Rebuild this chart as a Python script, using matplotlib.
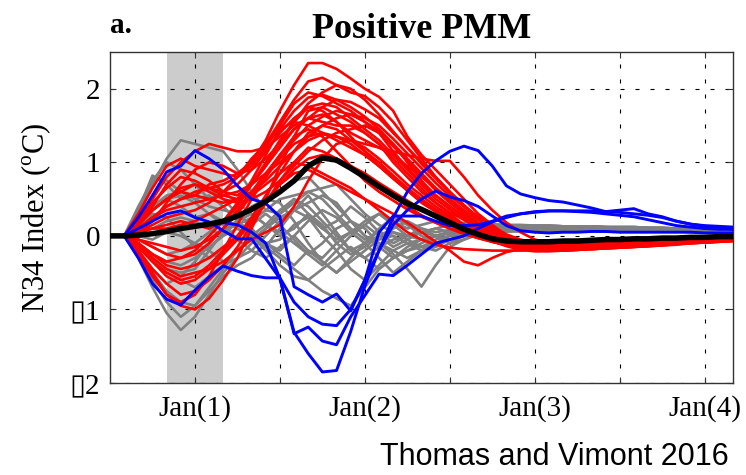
import numpy as np
import matplotlib
matplotlib.use("Agg")
import matplotlib.pyplot as plt

plt.rcParams['font.family'] = ['Liberation Serif', 'DejaVu Sans']
plt.rcParams['mathtext.fontset'] = 'custom'
plt.rcParams['mathtext.rm'] = 'Liberation Serif'
plt.rcParams['lines.scale_dashes'] = False

# months since Jul(0); Jan(1) = 6
months = np.arange(45)

ens_mean = [0, 0, 0.01, 0.03, 0.06, 0.1, 0.13, 0.16, 0.2, 0.27,
            0.36, 0.47, 0.6, 0.75, 0.95, 1.06, 1.03, 0.92, 0.8, 0.67,
            0.55, 0.44, 0.36, 0.27, 0.18, 0.09, 0.02, -0.04, -0.07, -0.08,
            -0.08, -0.08, -0.07, -0.07, -0.06, -0.05, -0.05, -0.04, -0.04, -0.03,
            -0.03, -0.02, -0.02, -0.01, -0.01]

red_runs = [
    [0, 0, 0.15, 0.35, 0.5, 0.6, 0.55, 0.7, 0.75, 0.85,
     1.0, 1.3, 1.7, 2.05, 2.35, 2.35, 2.27, 2.14, 2.0, 1.89,
     1.7, 1.35, 1.1, 0.9, 0.7, 0.5, 0.3, 0.15, 0.0, -0.08,
     -0.1, -0.12, -0.12, -0.13, -0.12, -0.12, -0.11, -0.1, -0.1, -0.09,
     -0.08, -0.07, -0.06, -0.05, -0.05],
    [0, 0, 0.1, 0.25, 0.4, 0.5, 0.6, 0.65, 0.7, 0.8,
     1.0, 1.25, 1.55, 1.85, 2.1, 2.15, 2.05, 1.95, 1.9, 1.75,
     1.55, 1.3, 1.05, 0.8, 0.6, 0.4, 0.25, 0.1, -0.02, -0.1,
     -0.14, -0.15, -0.15, -0.14, -0.14, -0.13, -0.12, -0.11, -0.1, -0.09,
     -0.08, -0.07, -0.06, -0.06, -0.05],
    [0, 0, -0.1, -0.25, -0.35, -0.3, -0.2, 0.0, 0.2, 0.45,
     0.75, 1.1, 1.45, 1.7, 1.88, 1.92, 1.85, 1.75, 1.62, 1.45,
     1.25, 1.0, 0.75, 0.55, 0.4, 0.25, 0.12, 0.02, -0.06, -0.12,
     -0.15, -0.17, -0.18, -0.18, -0.17, -0.16, -0.15, -0.14, -0.12, -0.11,
     -0.1, -0.08, -0.07, -0.06, -0.05],
    [0, 0, 0.05, 0.2, 0.45, 0.7, 0.9, 1.0, 0.95, 0.85,
     0.9, 1.05, 1.25, 1.45, 1.6, 1.75, 1.85, 1.82, 1.72, 1.6,
     1.4, 1.2, 1.0, 0.8, 0.6, 0.42, 0.25, 0.1, 0.0, -0.08,
     -0.12, -0.13, -0.14, -0.14, -0.13, -0.12, -0.12, -0.11, -0.1, -0.09,
     -0.08, -0.07, -0.06, -0.05, -0.05],
    [0, 0, 0.2, 0.5, 0.8, 1.0, 1.15, 1.25, 1.2, 1.15,
     1.15, 1.2, 1.35, 1.5, 1.6, 1.65, 1.55, 1.4, 1.3, 1.2,
     1.1, 0.95, 0.8, 0.65, 0.5, 0.35, 0.22, 0.1, 0.0, -0.06,
     -0.09, -0.1, -0.11, -0.11, -0.1, -0.1, -0.09, -0.09, -0.08, -0.07,
     -0.07, -0.06, -0.05, -0.05, -0.04],
    [0, 0, -0.2, -0.5, -0.8, -0.95, -1.0, -0.85, -0.6, -0.3,
     0.1, 0.5, 0.95, 1.35, 1.7, 1.75, 1.65, 1.55, 1.4, 1.25,
     1.05, 0.85, 0.65, 0.45, 0.3, 0.15, 0.03, -0.07, -0.14, -0.19,
     -0.21, -0.21, -0.2, -0.19, -0.18, -0.17, -0.16, -0.15, -0.14, -0.12,
     -0.11, -0.1, -0.09, -0.08, -0.07],
    [0, 0, 0.15, 0.4, 0.7, 0.9, 0.85, 0.75, 0.6, 0.55,
     0.7, 0.95, 1.2, 1.45, 1.6, 1.55, 1.5, 1.5, 1.4, 1.25,
     1.0, 0.8, 0.6, 0.45, 0.32, 0.22, 0.12, 0.03, -0.04, -0.08,
     -0.1, -0.11, -0.11, -0.11, -0.1, -0.1, -0.09, -0.09, -0.08, -0.07,
     -0.06, -0.06, -0.05, -0.05, -0.04],
    [0, 0, -0.15, -0.35, -0.5, -0.6, -0.55, -0.4, -0.2, 0.0,
     0.25, 0.55, 0.85, 1.15, 1.4, 1.5, 1.45, 1.3, 1.15, 1.0,
     0.82, 0.65, 0.5, 0.36, 0.25, 0.15, 0.06, -0.02, -0.09, -0.13,
     -0.15, -0.16, -0.16, -0.15, -0.15, -0.14, -0.13, -0.12, -0.11, -0.1,
     -0.09, -0.08, -0.07, -0.06, -0.05],
    [0, 0, 0.1, 0.25, 0.35, 0.4, 0.45, 0.5, 0.55, 0.6,
     0.7, 0.85, 1.0, 1.15, 1.3, 1.38, 1.35, 1.3, 1.25, 1.2,
     1.15, 1.1, 1.05, 1.02, 1.02, 0.8, 0.55, 0.35, 0.18, 0.05,
     -0.05, -0.1, -0.12, -0.13, -0.13, -0.12, -0.12, -0.11, -0.1, -0.09,
     -0.08, -0.07, -0.06, -0.05, -0.05],
    [0, 0, -0.1, -0.3, -0.45, -0.55, -0.5, -0.45, -0.35, -0.2,
     -0.05, 0.05, 0.15, 0.4, 0.75, 1.05, 1.25, 1.3, 1.2, 1.05,
     0.88, 0.7, 0.55, 0.4, 0.27, 0.15, 0.05, -0.02, -0.07, -0.1,
     -0.12, -0.13, -0.13, -0.12, -0.12, -0.11, -0.1, -0.1, -0.09, -0.08,
     -0.07, -0.06, -0.06, -0.05, -0.05],
    [0, 0, 0.2, 0.45, 0.65, 0.8, 0.75, 0.65, 0.6, 0.7,
     0.9, 1.15, 1.4, 1.6, 1.75, 1.8, 1.75, 1.6, 1.45, 1.3,
     1.1, 0.9, 0.7, 0.5, 0.36, 0.22, 0.1, 0.0, -0.07, -0.1,
     -0.12, -0.13, -0.13, -0.12, -0.12, -0.11, -0.1, -0.1, -0.09, -0.08,
     -0.07, -0.07, -0.06, -0.05, -0.05],
    [0, 0, -0.2, -0.45, -0.65, -0.8, -0.75, -0.6, -0.4, -0.15,
     0.15, 0.45, 0.75, 1.0, 1.2, 1.15, 1.05, 0.95, 0.85, 0.72,
     0.6, 0.48, 0.36, 0.25, 0.15, 0.06, -0.02, -0.08, -0.13, -0.17,
     -0.19, -0.2, -0.2, -0.19, -0.18, -0.17, -0.16, -0.15, -0.14, -0.13,
     -0.12, -0.1, -0.09, -0.08, -0.07],
    [0, 0, 0.05, 0.15, 0.25, 0.3, 0.35, 0.45, 0.6, 0.8,
     1.05, 1.25, 1.45, 1.55, 1.5, 1.4, 1.3, 1.2, 1.1, 0.95,
     0.8, 0.62, 0.45, 0.33, 0.23, 0.14, 0.06, -0.01, -0.06, -0.09,
     -0.11, -0.12, -0.12, -0.12, -0.11, -0.11, -0.1, -0.1, -0.09, -0.08,
     -0.07, -0.06, -0.06, -0.05, -0.04],
    [0, 0, 0.15, 0.35, 0.5, 0.6, 0.7, 0.65, 0.55, 0.5,
     0.55, 0.7, 0.85, 1.0, 0.95, 0.85, 0.75, 0.65, 0.5, 0.35,
     0.2, 0.05, -0.05, -0.12, -0.16, -0.18, -0.19, -0.2, -0.2, -0.2,
     -0.19, -0.19, -0.18, -0.17, -0.16, -0.15, -0.14, -0.13, -0.12, -0.11,
     -0.1, -0.09, -0.08, -0.07, -0.06],
    [0, 0, -0.05, -0.15, -0.25, -0.3, -0.25, -0.1, 0.1, 0.35,
     0.6, 0.85, 1.1, 1.3, 1.5, 1.62, 1.7, 1.65, 1.55, 1.42,
     1.25, 1.05, 0.85, 0.65, 0.47, 0.32, 0.18, 0.06, -0.03, -0.1,
     -0.14, -0.16, -0.17, -0.17, -0.16, -0.15, -0.14, -0.13, -0.12, -0.11,
     -0.1, -0.09, -0.08, -0.07, -0.06],
    [0, 0, 0.3, 0.65, 0.95, 1.05, 0.95, 0.9, 0.85, 0.8,
     0.95, 1.2, 1.5, 1.8, 1.95, 1.9, 1.8, 1.7, 1.55, 1.4,
     1.15, 0.92, 0.72, 0.55, 0.4, 0.27, 0.14, 0.04, -0.04, -0.1,
     -0.13, -0.14, -0.14, -0.13, -0.13, -0.12, -0.11, -0.1, -0.1, -0.09,
     -0.08, -0.07, -0.06, -0.05, -0.05],
    [0, 0, -0.05, -0.1, -0.15, -0.2, -0.15, -0.05, 0.1, 0.3,
     0.55, 0.8, 1.05, 1.25, 1.35, 1.4, 1.35, 1.25, 1.1, 0.95,
     0.78, 0.62, 0.47, 0.34, 0.24, 0.15, 0.06, -0.01, -0.07, -0.12,
     -0.14, -0.15, -0.15, -0.14, -0.14, -0.13, -0.12, -0.11, -0.1, -0.1,
     -0.09, -0.08, -0.07, -0.06, -0.05],
    [0, 0, 0.1, 0.25, 0.4, 0.5, 0.55, 0.5, 0.45, 0.5,
     0.7, 0.95, 1.25, 1.55, 1.8, 1.95, 2.05, 2.0, 1.85, 1.65,
     1.42, 1.2, 0.98, 0.78, 0.58, 0.4, 0.24, 0.1, 0.0, -0.08,
     -0.12, -0.14, -0.14, -0.14, -0.13, -0.12, -0.12, -0.11, -0.1, -0.09,
     -0.08, -0.07, -0.06, -0.06, -0.05],
    [0, 0, -0.25, -0.55, -0.8, -0.9, -0.8, -0.55, -0.2, 0.15,
     0.5, 0.8, 1.1, 1.35, 1.45, 1.35, 1.15, 0.95, 0.75, 0.6,
     0.48, 0.36, 0.26, 0.18, 0.1, 0.03, -0.03, -0.08, -0.12, -0.16,
     -0.18, -0.2, -0.2, -0.19, -0.18, -0.17, -0.16, -0.15, -0.14, -0.13,
     -0.11, -0.1, -0.09, -0.08, -0.07],
    [0, 0, 0.05, 0.1, 0.1, 0.15, 0.2, 0.3, 0.4, 0.5,
     0.6, 0.75, 0.95, 1.15, 1.35, 1.5, 1.6, 1.65, 1.6, 1.5,
     1.32, 1.12, 0.92, 0.72, 0.54, 0.4, 0.26, 0.13, 0.02, -0.05,
     -0.1, -0.12, -0.13, -0.13, -0.12, -0.12, -0.11, -0.1, -0.1, -0.09,
     -0.08, -0.07, -0.06, -0.05, -0.05],
    [0, 0, -0.1, -0.25, -0.4, -0.45, -0.4, -0.3, -0.15, 0.0,
     0.2, 0.45, 0.7, 0.9, 1.05, 1.1, 1.05, 0.95, 0.82, 0.68,
     0.54, 0.4, 0.28, 0.18, 0.1, 0.03, -0.03, -0.08, -0.12, -0.15,
     -0.16, -0.17, -0.17, -0.16, -0.15, -0.14, -0.13, -0.12, -0.11, -0.1,
     -0.09, -0.08, -0.07, -0.06, -0.05],
    [0, 0, 0.15, 0.35, 0.5, 0.65, 0.7, 0.6, 0.5, 0.45,
     0.5, 0.6, 0.75, 0.95, 1.15, 1.3, 1.4, 1.45, 1.5, 1.4,
     1.22, 1.02, 0.82, 0.62, 0.45, 0.3, 0.17, 0.06, -0.02, -0.08,
     -0.11, -0.12, -0.13, -0.13, -0.12, -0.12, -0.11, -0.1, -0.1, -0.09,
     -0.08, -0.07, -0.06, -0.05, -0.05],
    [0, 0, -0.15, -0.35, -0.55, -0.65, -0.6, -0.45, -0.25, -0.05,
     0.2, 0.45, 0.7, 0.85, 0.9, 0.8, 0.7, 0.6, 0.5, 0.4,
     0.3, 0.18, 0.05, -0.08, -0.2, -0.35, -0.4, -0.3, -0.22, -0.18,
     -0.17, -0.17, -0.17, -0.17, -0.16, -0.15, -0.14, -0.13, -0.12, -0.11,
     -0.1, -0.09, -0.08, -0.07, -0.06],
    [0, 0, 0.05, 0.1, 0.15, 0.2, 0.15, 0.1, 0.2, 0.4,
     0.7, 1.0, 1.3, 1.55, 1.75, 1.7, 1.55, 1.35, 1.15, 0.95,
     0.78, 0.62, 0.47, 0.35, 0.24, 0.15, 0.07, 0.0, -0.07, -0.11,
     -0.13, -0.14, -0.14, -0.14, -0.13, -0.12, -0.12, -0.11, -0.1, -0.09,
     -0.08, -0.07, -0.06, -0.06, -0.05],
]

gray_runs = [
    [0, 0, 0.3, 0.7, 1.05, 1.3, 1.25, 1.2, 1.15, 0.9,
     0.6, 0.35, 0.3, 0.45, 0.6, 0.5, 0.3, 0.1, -0.05, 0.05,
     0.0, -0.1, -0.05, 0.0, 0.05, 0.05, 0.08, 0.1, 0.1, 0.12,
     0.12, 0.12, 0.11, 0.11, 0.11, 0.1, 0.1, 0.1, 0.1, 0.09,
     0.09, 0.08, 0.08, 0.08, 0.07],
    [0, 0, -0.3, -0.7, -1.05, -1.28, -1.1, -0.8, -0.5, -0.3,
     -0.1, 0.1, 0.3, 0.5, 0.4, 0.2, 0.0, -0.2, -0.3, -0.15,
     -0.05, 0.0, 0.05, 0.0, -0.05, 0.0, 0.05, 0.08, 0.1, 0.1,
     0.1, 0.1, 0.1, 0.1, 0.09, 0.09, 0.09, 0.08, 0.08, 0.08,
     0.08, 0.07, 0.07, 0.07, 0.07],
    [0, 0, 0.3, 0.8, 0.75, 0.6, 0.5, 0.55, 0.4, 0.2,
     0.0, -0.15, 0.1, 0.35, 0.55, 0.3, 0.05, -0.2, -0.1, 0.1,
     0.25, 0.15, 0.0, -0.1, -0.05, 0.05, 0.1, 0.12, 0.13, 0.13,
     0.14, 0.14, 0.13, 0.13, 0.13, 0.12, 0.12, 0.12, 0.11, 0.11,
     0.1, 0.1, 0.1, 0.09, 0.09],
    [0, 0, -0.1, -0.3, -0.5, -0.6, -0.7, -0.55, -0.4, -0.3,
     -0.2, 0.0, 0.2, 0.35, 0.25, 0.0, -0.2, -0.45, -0.6, -0.4,
     -0.2, -0.1, -0.15, -0.05, 0.0, 0.02, 0.04, 0.06, 0.07, 0.08,
     0.08, 0.08, 0.08, 0.08, 0.08, 0.08, 0.07, 0.07, 0.07, 0.07,
     0.06, 0.06, 0.06, 0.06, 0.06],
    [0, 0, 0.15, 0.35, 0.5, 0.55, 0.45, 0.3, 0.2, 0.15,
     0.25, 0.45, 0.6, 0.75, 0.8, 0.6, 0.4, 0.2, 0.0, -0.15,
     -0.3, -0.2, -0.1, 0.0, 0.05, 0.1, 0.12, 0.13, 0.14, 0.14,
     0.14, 0.14, 0.13, 0.13, 0.13, 0.12, 0.12, 0.12, 0.11, 0.11,
     0.1, 0.1, 0.1, 0.09, 0.09],
    [0, 0, -0.1, -0.25, -0.35, -0.4, -0.3, -0.15, 0.0, 0.1,
     0.0, -0.15, -0.3, -0.45, -0.6, -0.75, -0.85, -0.95, -0.7, -0.45,
     -0.3, -0.2, -0.15, -0.1, -0.05, 0.0, 0.03, 0.05, 0.06, 0.07,
     0.07, 0.07, 0.07, 0.07, 0.07, 0.06, 0.06, 0.06, 0.06, 0.06,
     0.06, 0.05, 0.05, 0.05, 0.05],
    [0, 0, 0.05, 0.1, 0.2, 0.25, 0.2, 0.1, 0.0, 0.2,
     0.4, 0.5, 0.45, 0.2, -0.1, -0.35, -0.5, -0.3, -0.1, 0.0,
     0.05, -0.05, -0.15, -0.2, -0.1, 0.0, 0.05, 0.08, 0.1, 0.1,
     0.1, 0.1, 0.1, 0.1, 0.1, 0.09, 0.09, 0.09, 0.09, 0.08,
     0.08, 0.08, 0.08, 0.07, 0.07],
    [0, 0, -0.2, -0.5, -0.75, -0.9, -0.95, -0.7, -0.45, -0.2,
     0.0, 0.15, 0.05, -0.1, -0.25, -0.1, 0.1, 0.2, 0.1, -0.1,
     -0.25, -0.45, -0.69, -0.4, -0.15, -0.05, 0.02, 0.05, 0.07, 0.08,
     0.08, 0.08, 0.08, 0.08, 0.08, 0.08, 0.07, 0.07, 0.07, 0.07,
     0.07, 0.06, 0.06, 0.06, 0.06],
    [0, 0, 0.2, 0.4, 0.55, 0.6, 0.5, 0.4, 0.35, 0.3,
     0.1, -0.1, -0.2, 0.0, 0.2, 0.35, 0.25, 0.05, 0.15, 0.3,
     0.15, 0.0, 0.05, 0.1, 0.15, 0.18, 0.17, 0.16, 0.15, 0.15,
     0.14, 0.14, 0.13, 0.13, 0.13, 0.12, 0.12, 0.12, 0.11, 0.11,
     0.1, 0.1, 0.1, 0.09, 0.09],
    [0, 0, -0.05, -0.15, -0.25, -0.2, -0.1, -0.2, -0.35, -0.2,
     0.0, -0.2, -0.4, -0.55, -0.6, -0.45, -0.3, -0.15, -0.3, -0.45,
     -0.3, -0.15, -0.05, 0.0, 0.03, 0.05, 0.06, 0.07, 0.08, 0.08,
     0.08, 0.08, 0.08, 0.08, 0.08, 0.08, 0.07, 0.07, 0.07, 0.07,
     0.07, 0.06, 0.06, 0.06, 0.06],
    [0, 0, 0.4, 0.75, 1.0, 0.9, 0.7, 0.5, 0.6, 0.45,
     0.3, 0.15, 0.35, 0.5, 0.3, 0.1, 0.2, 0.4, 0.25, 0.05,
     -0.1, 0.0, 0.1, 0.05, 0.08, 0.1, 0.12, 0.13, 0.13, 0.13,
     0.13, 0.12, 0.12, 0.12, 0.12, 0.11, 0.11, 0.11, 0.1, 0.1,
     0.1, 0.09, 0.09, 0.09, 0.08],
    [0, 0, -0.1, -0.3, -0.45, -0.5, -0.45, -0.2, 0.05, 0.2,
     0.3, 0.15, 0.0, 0.1, 0.3, 0.15, -0.1, -0.25, -0.15, 0.0,
     0.1, 0.2, 0.1, 0.0, -0.1, -0.05, 0.02, 0.06, 0.08, 0.09,
     0.09, 0.09, 0.09, 0.09, 0.09, 0.08, 0.08, 0.08, 0.08, 0.08,
     0.07, 0.07, 0.07, 0.07, 0.07],
    [0, 0, 0.0, -0.05, 0.05, 0.0, -0.1, 0.05, 0.2, 0.1,
     -0.05, 0.1, 0.25, 0.35, 0.45, 0.55, 0.45, 0.2, 0.0, -0.1,
     -0.2, -0.3, -0.2, -0.1, 0.0, 0.05, 0.08, 0.1, 0.11, 0.11,
     0.11, 0.11, 0.11, 0.1, 0.1, 0.1, 0.1, 0.1, 0.09, 0.09,
     0.09, 0.09, 0.08, 0.08, 0.08],
    [0, 0, -0.25, -0.6, -0.9, -1.1, -0.95, -0.75, -0.55, -0.4,
     -0.3, -0.1, -0.25, -0.4, -0.2, -0.35, -0.5, -0.35, -0.2, -0.05,
     0.0, -0.1, -0.2, -0.15, -0.05, 0.0, 0.03, 0.05, 0.06, 0.06,
     0.07, 0.07, 0.07, 0.07, 0.07, 0.07, 0.06, 0.06, 0.06, 0.06,
     0.06, 0.06, 0.05, 0.05, 0.05],
    [0, 0, 0.1, 0.3, 0.25, 0.05, -0.15, -0.3, -0.2, 0.0,
     0.2, 0.35, 0.5, 0.55, 0.6, 0.65, 0.7, 0.5, 0.3, 0.15,
     0.05, 0.0, -0.05, 0.0, 0.05, 0.08, 0.1, 0.12, 0.13, 0.13,
     0.13, 0.13, 0.12, 0.12, 0.12, 0.12, 0.11, 0.11, 0.11, 0.1,
     0.1, 0.1, 0.09, 0.09, 0.09],
    [0, 0, 0.15, 0.35, 0.5, 0.4, 0.25, 0.3, 0.15, -0.05,
     -0.2, -0.3, -0.15, 0.0, -0.2, -0.3, -0.1, 0.05, -0.1, -0.3,
     -0.5, -0.35, -0.2, -0.1, -0.05, 0.0, 0.04, 0.06, 0.08, 0.08,
     0.09, 0.09, 0.09, 0.09, 0.08, 0.08, 0.08, 0.08, 0.08, 0.07,
     0.07, 0.07, 0.07, 0.07, 0.06],
    [0, 0, -0.2, -0.45, -0.65, -0.55, -0.35, -0.1, 0.1, 0.2,
     0.05, -0.1, -0.05, 0.15, 0.25, 0.1, -0.05, 0.05, 0.2, 0.3,
     0.2, 0.1, 0.15, 0.2, 0.12, 0.08, 0.08, 0.09, 0.1, 0.1,
     0.1, 0.1, 0.1, 0.1, 0.1, 0.1, 0.09, 0.09, 0.09, 0.09,
     0.09, 0.08, 0.08, 0.08, 0.08],
    [0, 0, 0.35, 0.82, 0.7, 0.5, 0.55, 0.65, 0.5, 0.3,
     0.15, 0.3, 0.15, -0.05, -0.25, -0.4, -0.2, 0.0, 0.15, 0.0,
     -0.15, -0.05, 0.05, 0.1, 0.05, 0.07, 0.09, 0.1, 0.11, 0.11,
     0.11, 0.11, 0.11, 0.1, 0.1, 0.1, 0.1, 0.1, 0.09, 0.09,
     0.09, 0.09, 0.08, 0.08, 0.08],
]

blue_runs = [
    [0, 0, 0.25, 0.55, 0.87, 0.95, 1.16, 1.05, 0.9, 0.68,
     0.5, 0.44, 0.26, -0.69, -0.8, -0.9, -0.79, -1.02, -0.6, -0.2,
     0.15, 0.35, 0.5, 0.61, 0.53, 0.48, 0.4, 0.27, 0.14, 0.07,
     0.05, 0.04, 0.05, 0.05, 0.06, 0.06, 0.05, 0.05, 0.05, 0.05,
     0.05, 0.05, 0.04, 0.04, 0.04],
    [0, 0, 0.1, 0.2, 0.3, 0.34, 0.25, 0.19, 0.07, -0.04,
     -0.04, -0.31, -0.58, -1.31, -1.6, -1.85, -1.83, -1.3, -0.68, -0.2,
     0.25, 0.6, 0.85, 1.02, 1.15, 1.22, 1.16, 0.95, 0.68, 0.57,
     0.52, 0.48, 0.46, 0.42, 0.38, 0.33, 0.35, 0.37, 0.3, 0.26,
     0.2, 0.16, 0.14, 0.13, 0.12],
    [0, 0, -0.3, -0.65, -0.86, -0.94, -0.74, -0.56, -0.41, -0.48,
     -0.54, -0.57, -0.57, -0.9, -1.1, -1.2, -1.22, -1.0, -0.6, 0.05,
     0.27, 0.27, 0.27, 0.2, 0.14, 0.14, 0.15, 0.2, 0.27, 0.3,
     0.33, 0.34, 0.34, 0.34, 0.34, 0.33, 0.32, 0.3, 0.28, 0.25,
     0.2, 0.16, 0.13, 0.11, 0.09],
    [0, 0, 0.01, 0.03, 0.06, 0.1, 0.13, 0.16, 0.18, 0.15,
     0.05, -0.1, -0.58, -1.33, -1.24, -1.43, -1.48, -1.1, -0.81, -0.52,
     -0.54, -0.4, -0.25, -0.1, -0.05, 0.0, 0.1, 0.19, 0.25, 0.3,
     0.32, 0.34, 0.34, 0.33, 0.32, 0.3, 0.28, 0.26, 0.22, 0.18,
     0.14, 0.12, 0.1, 0.09, 0.09],
]

tick_pos = [6, 12, 18, 24, 30, 36, 42]
tick_lab = ['Jan(1)', '', 'Jan(2)', '', 'Jan(3)', '', 'Jan(4)']
ytick_pos = [-2, -1, 0, 1, 2]
ytick_lab = ['\u25af2', '\u25af1', '0', '1', '2']
shade = (4, 8)

#____PLOTTING____#

fig = plt.figure(figsize=(7.46, 4.75), dpi=100)
ax = fig.add_axes([110/746, 1-383/475, 623/746, 331/475])

ax.axvspan(shade[0], shade[1], color='#cccccc', lw=0, zorder=0.2)

for run in gray_runs:
    ax.plot(months, run, color='#808080', lw=1.9, zorder=2)
for run in red_runs:
    ax.plot(months, run, color='#ff0000', lw=1.9, zorder=3)
for run in blue_runs:
    ax.plot(months, run, color='#0000ff', lw=2.1, zorder=4)
ax.plot(months, ens_mean, color='k', lw=4.0, zorder=5)

ax.set_xlim(0, 44)
ax.set_ylim(-2, 2.5)
ax.set_xticks(tick_pos)
ax.set_xticklabels(tick_lab)
ax.set_yticks(ytick_pos)
ax.set_yticklabels(ytick_lab)
ax.grid(True, color='k', linestyle=(0, (2.9, 7.9)), linewidth=0.8, zorder=0.5)
ax.set_axisbelow(True)

ax.tick_params(direction='in', top=True, right=True, length=4, width=0.8,
               color='#333333', labelsize=21, pad=7)
ax.tick_params(axis='x', pad=9)
for s in ax.spines.values():
    s.set_color('#333333')
    s.set_linewidth(1.0)

fig.text(421.5/746, 1-38/475, 'Positive PMM', ha='center', va='baseline',
         fontsize=26, fontweight='bold')
fig.text(110/746, 1-33/475, 'a.', ha='left', va='baseline',
         fontsize=21, fontweight='bold')
fig.text(36/746, 1-218/475, 'N34 Index ($^{\\rm o}$C)', rotation=90,
         ha='center', va='center', fontsize=22)
fig.text(729/746, 3/475, 'Thomas and Vimont 2016', ha='right', va='bottom',
         fontsize=22, family='Liberation Sans')

fig.savefig('out.png', dpi=100)
